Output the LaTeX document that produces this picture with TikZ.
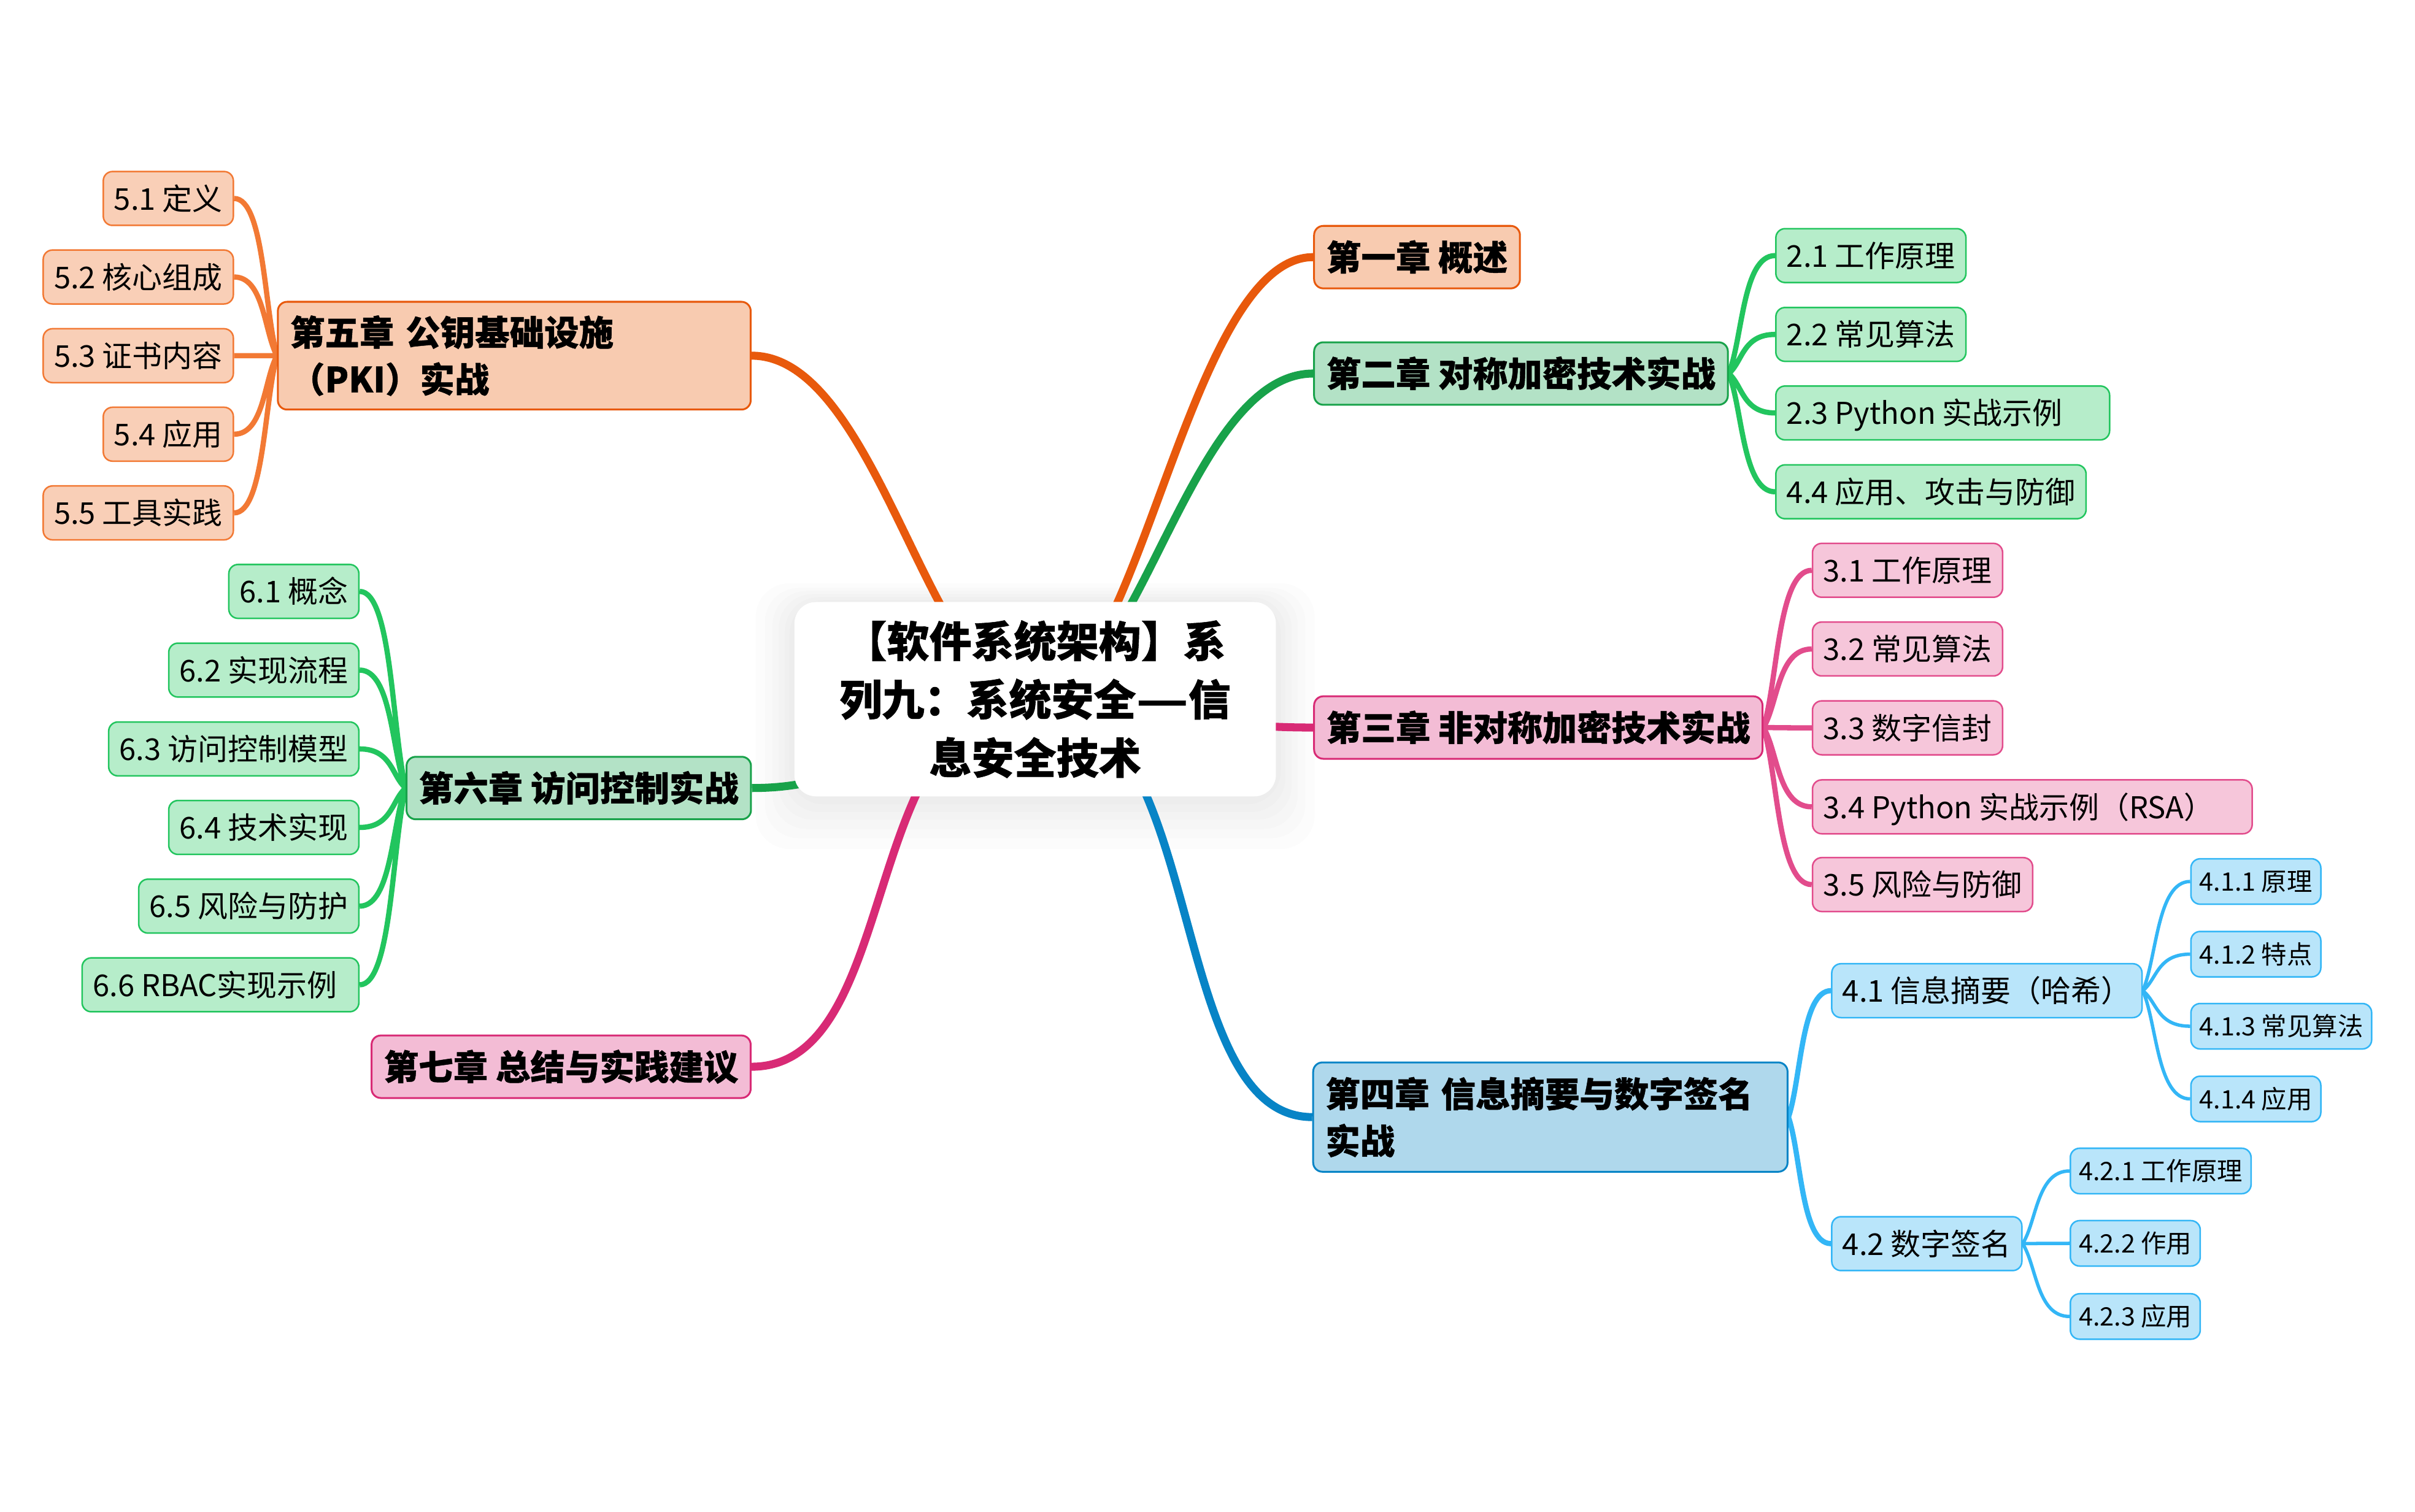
\documentclass[tikz,border=0pt]{standalone}
\usepackage{fontspec}
\setmainfont{Noto Sans CJK SC}[BoldFeatures={FakeBold=0.8}]
\usetikzlibrary{calc,backgrounds}

\definecolor{orgdark}{HTML}{E8590C}
\definecolor{orgpale}{HTML}{F8CBB0}
\definecolor{orglight}{HTML}{F9CFB7}
\definecolor{orgline}{HTML}{F27934}
\definecolor{grndark}{HTML}{18A24A}
\definecolor{grnpale}{HTML}{B3E2C6}
\definecolor{grnlight}{HTML}{B6EDCA}
\definecolor{grnline}{HTML}{22C55E}
\definecolor{pnkdark}{HTML}{D82A75}
\definecolor{pnkpale}{HTML}{F3BCD5}
\definecolor{pnklight}{HTML}{F6C6DA}
\definecolor{pnkline}{HTML}{E24C8C}
\definecolor{bludark}{HTML}{0784C6}
\definecolor{blupale}{HTML}{AFD8EC}
\definecolor{blulight}{HTML}{B9E5FA}
\definecolor{bluline}{HTML}{33B6F6}

\begin{document}
\begin{tikzpicture}[
		x={(1pt,0pt)},
		y={(0pt,-1pt)},
		rootbox/.style={fill=white, rounded corners=14pt, minimum width=312.6pt, minimum height=126.2pt, inner sep=0pt, align=center,
			font=\fontsize{27.5}{37.9}\selectfont\bfseries},
		glow/.style={fill=black, fill opacity=0.012, rounded corners=22pt},
		topic/.style={draw, rounded corners=6pt, line width=1.2pt, inner xsep=8pt, inner ysep=0pt, minimum height=40.6pt,
			font=\fontsize{22.5}{30.5}\selectfont\bfseries},
		oneline/.style={text height=19.8pt, text depth=2.7pt},
		leaf/.style={draw, rounded corners=6pt, line width=1pt, inner xsep=7pt, inner ysep=0pt, minimum height=35pt,
			text height=17.2pt, text depth=2.3pt, font=\fontsize{19.5}{23}\selectfont},
		leafsm/.style={leaf, inner xsep=5.5pt, minimum height=29.5pt, text height=14.5pt, text depth=2pt, font=\fontsize{16.5}{20}\selectfont},
		orgtopic/.style={topic, fill=orgpale, draw=orgdark},
		grntopic/.style={topic, fill=grnpale, draw=grndark},
		pnktopic/.style={topic, fill=pnkpale, draw=pnkdark},
		blutopic/.style={topic, fill=blupale, draw=bludark},
		orgitem/.style={leaf, fill=orglight, draw=orgline},
		grnitem/.style={leaf, fill=grnlight, draw=grnline},
		pnkitem/.style={leaf, fill=pnklight, draw=pnkline},
		bluitem/.style={leaf, fill=blulight, draw=bluline},
		trunk/.style args={#1/#2}{line width=5.2pt, to path={.. controls ($(\tikztostart)!#1!(\tikztostart -| \tikztotarget)$) and ($(\tikztotarget)!#2!(\tikztotarget -| \tikztostart)$) .. (\tikztotarget) \tikztonodes}},
		trunk/.default=0.5/0.5,
		twig/.style={line width=3.4pt, to path={.. controls ($(\tikztostart)!0.3!(\tikztotarget)$) and ($(\tikztostart |- \tikztotarget)!0.3!(\tikztotarget)$) .. (\tikztotarget) \tikztonodes}}
	]

		\useasboundingbox (0,0) rectangle (1568,981.6);

		% centre
		\node[rootbox] (root) at (672.1,454.1) {【软件系统架构】系\\列九：系统安全{\addfontfeature{FakeBold=3}\scalebox{1.35}[1]{—}}信\\息安全技术};

		% chapters, right
		\node[orgtopic, oneline, anchor=west] (ch1) at (852.6,167) {第一章 概述};
		\node[grntopic, oneline, anchor=west] (ch2) at (852.6,242.6) {第二章 对称加密技术实战};
		\node[pnktopic, oneline, anchor=west] (ch3) at (852.6,472.5) {第三章 非对称加密技术实战};
		\node[blutopic, anchor=west, text width=292pt, align=left, minimum height=71pt] (ch4) at (852,725.5) {第四章 信息摘要与数字签名\\实战};

		% chapters, left
		\node[orgtopic, anchor=east, text width=291pt, align=left, minimum height=70pt] (ch5) at (488,231) {第五章 公钥基础设施\\（PKI）实战};
		\node[grntopic, oneline, anchor=east] (ch6) at (488.2,511.8) {第六章 访问控制实战};
		\node[pnktopic, oneline, anchor=east] (ch7) at (488,692.8) {第七章 总结与实践建议};

		% chapter 2
		\node[grnitem, anchor=west] (s21) at (1152.5,166) {2.1 工作原理};
		\node[grnitem, anchor=west] (s22) at (1152.5,217.2) {2.2 常见算法};
		\node[grnitem, anchor=west] (s23) at (1152.5,268.2) {2.3 Python 实战示例\hspace*{23.5pt}};
		\node[grnitem, anchor=west] (s24) at (1152.5,319.4) {4.4 应用、攻击与防御};

		% chapter 3
		\node[pnkitem, anchor=west] (s31) at (1176.3,370.4) {3.1 工作原理};
		\node[pnkitem, anchor=west] (s32) at (1176.3,421.5) {3.2 常见算法};
		\node[pnkitem, anchor=west] (s33) at (1176.3,472.7) {3.3 数字信封};
		\node[pnkitem, anchor=west] (s34) at (1176.3,524) {3.4 Python 实战示例（RSA）\hspace*{17.7pt}};
		\node[pnkitem, anchor=west] (s35) at (1176.3,574.5) {3.5 风险与防御};

		% chapter 4
		\node[bluitem, anchor=west] (s41) at (1188.8,643.4) {4.1 信息摘要（哈希）};
		\node[bluitem, anchor=west] (s42) at (1188.8,807.7) {4.2 数字签名};
		\node[bluitem, leafsm, anchor=west] (s411) at (1422,572.5) {4.1.1 原理};
		\node[bluitem, leafsm, anchor=west] (s412) at (1422,619.7) {4.1.2 特点};
		\node[bluitem, leafsm, anchor=west] (s413) at (1422,666.5) {4.1.3 常见算法};
		\node[bluitem, leafsm, anchor=west] (s414) at (1422,713.7) {4.1.4 应用};
		\node[bluitem, leafsm, anchor=west] (s421) at (1343.7,760.5) {4.2.1 工作原理};
		\node[bluitem, leafsm, anchor=west] (s422) at (1343.7,807.5) {4.2.2 作用};
		\node[bluitem, leafsm, anchor=west] (s423) at (1343.7,855) {4.2.3 应用};

		% chapter 5
		\node[orgitem, anchor=east] (s51) at (152,128.9) {5.1 定义};
		\node[orgitem, anchor=east] (s52) at (152,179.9) {5.2 核心组成};
		\node[orgitem, anchor=east] (s53) at (152,231) {5.3 证书内容};
		\node[orgitem, anchor=east] (s54) at (152,282) {5.4 应用};
		\node[orgitem, anchor=east] (s55) at (152,333.1) {5.5 工具实践};

		% chapter 6
		\node[grnitem, anchor=east] (s61) at (233.5,384.1) {6.1 概念};
		\node[grnitem, anchor=east] (s62) at (233.5,435.2) {6.2 实现流程};
		\node[grnitem, anchor=east] (s63) at (233.5,486.4) {6.3 访问控制模型};
		\node[grnitem, anchor=east] (s64) at (233.5,537.4) {6.4 技术实现};
		\node[grnitem, anchor=east] (s65) at (233.5,588.5) {6.5 风险与防护};
		\node[grnitem, anchor=east] (s66) at (233.5,639.6) {6.6 RBAC实现示例\hspace*{7pt}};

		\begin{pgfonlayer}{background}
			\fill[white] (0,0) rectangle (1568,981.6);

			% soft glow round the centre
			\fill[glow] ($(root.north west)+(-3,-1)$) rectangle ($(root.south east)+(3,5)$);
			\fill[glow] ($(root.north west)+(-6,-3)$) rectangle ($(root.south east)+(6,10)$);
			\fill[glow] ($(root.north west)+(-10,-5)$) rectangle ($(root.south east)+(10,15)$);
			\fill[glow] ($(root.north west)+(-14,-7)$) rectangle ($(root.south east)+(14,21)$);
			\fill[glow] ($(root.north west)+(-19,-9)$) rectangle ($(root.south east)+(19,27)$);
			\fill[glow] ($(root.north west)+(-25,-12)$) rectangle ($(root.south east)+(25,34)$);

			% main branches
			\draw[trunk=0.37/0.45, orgdark] (root.center) to (ch1.west);
			\draw[trunk=0.37/0.45, grndark] (root.center) to (ch2.west);
			\draw[trunk, pnkdark] (root.center) to (ch3.west);
			\draw[trunk=0.63/0.54, bludark] (root.center) to (ch4.west);
			\draw[trunk=0.37/0.45, orgdark] (root.center) to (ch5.east);
			\draw[trunk, grndark] (root.center) to (ch6.east);
			\draw[trunk=0.63/0.54, pnkdark] (root.center) to (ch7.east);

			% sub branches
			\draw[twig, grnline] (ch2.east) to (s21.west) (ch2.east) to (s22.west) (ch2.east) to (s23.west) (ch2.east) to (s24.west);
			\draw[twig, pnkline] (ch3.east) to (s31.west) (ch3.east) to (s32.west) (ch3.east) to (s33.west) (ch3.east) to (s34.west) (ch3.east) to (s35.west);
			\draw[twig, bluline] (ch4.east) to (s41.west) (ch4.east) to (s42.west);
			\draw[twig, bluline, line width=2.2pt] (s41.east) to (s411.west) (s41.east) to (s412.west) (s41.east) to (s413.west) (s41.east) to (s414.west);
			\draw[twig, bluline, line width=2.2pt] (s42.east) to (s421.west) (s42.east) to (s422.west) (s42.east) to (s423.west);
			\draw[twig, orgline] (ch5.west) to (s51.east) (ch5.west) to (s52.east) (ch5.west) to (s53.east) (ch5.west) to (s54.east) (ch5.west) to (s55.east);
			\draw[twig, grnline] (ch6.west) to (s61.east) (ch6.west) to (s62.east) (ch6.west) to (s63.east) (ch6.west) to (s64.east) (ch6.west) to (s65.east) (ch6.west) to (s66.east);
		\end{pgfonlayer}

	\end{tikzpicture}
\end{document}
